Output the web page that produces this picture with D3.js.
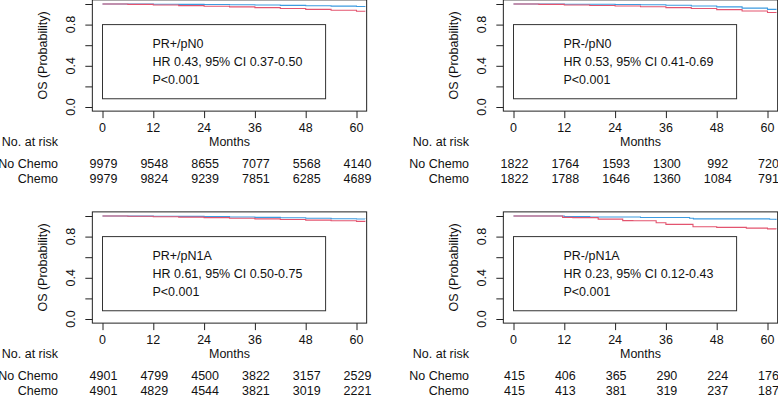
<!DOCTYPE html>
<html>
<head>
<meta charset="utf-8">
<script src="https://cdn.jsdelivr.net/npm/d3@7"></script>
<style>
  body { margin: 0; background: #fff; }
  svg text { font-family: "Liberation Sans", Arial, Helvetica, sans-serif; font-size: 12.5px; fill: #111; }
</style>
</head>
<body>
<svg id="chart" width="778" height="395"></svg>
<script>
// ---- data ----
var months = [0, 12, 24, 36, 48, 60];
var yTicks = [0, 0.2, 0.4, 0.6, 0.8, 1.0];
var yLabels = [0, 0.4, 0.8];
var panelTitles = ["PR+/pN0", "PR-/pN0", "PR+/pN1A", "PR-/pN1A"];
var hrTexts = ["HR 0.43, 95% CI 0.37-0.50", "HR 0.53, 95% CI 0.41-0.69",
               "HR 0.61, 95% CI 0.50-0.75", "HR 0.23, 95% CI 0.12-0.43"];
var pTexts = ["P<0.001", "P<0.001", "P<0.001", "P<0.001"];
var riskNoChemo = [
  [9979, 9548, 8655, 7077, 5568, 4140],
  [1822, 1764, 1593, 1300, 992, 720],
  [4901, 4799, 4500, 3822, 3157, 2529],
  [415, 406, 365, 290, 224, 176]
];
var riskChemo = [
  [9979, 9824, 9239, 7851, 6285, 4689],
  [1822, 1788, 1646, 1360, 1084, 791],
  [4901, 4829, 4544, 3821, 3019, 2221],
  [415, 413, 381, 319, 237, 187]
];
// survival curves [month, probability]
var kmNoChemo = [
  [[0,1],[6,0.996],[12,0.99],[18,0.984],[24,0.978],[30,0.972],[36,0.965],[42,0.957],[48,0.948],[54,0.939],[60,0.93],[62,0.926]],
  [[0,1],[6,0.996],[12,0.99],[18,0.985],[24,0.98],[30,0.973],[36,0.965],[42,0.956],[48,0.945],[54,0.932],[60,0.918],[62,0.913]],
  [[0,1],[6,0.997],[12,0.993],[18,0.989],[24,0.984],[30,0.978],[36,0.972],[42,0.966],[48,0.96],[54,0.954],[60,0.948],[62,0.945]],
  [[0,1],[9,1],[11.6,0.987],[14,0.984],[20,0.97],[25.8,0.955],[28.2,0.954],[33.7,0.935],[36,0.919],[42.4,0.896],[48,0.89],[55,0.882],[60,0.875],[62,0.871]]
];
var kmChemo = [
  [[0,1],[6,0.999],[12,0.998],[18,0.996],[24,0.995],[30,0.993],[36,0.99],[42,0.987],[48,0.983],[54,0.979],[60,0.976],[62,0.974]],
  [[0,1],[6,0.999],[12,0.998],[18,0.997],[24,0.995],[30,0.992],[36,0.988],[42,0.981],[48,0.972],[54,0.96],[60,0.948],[62,0.942]],
  [[0,1],[6,0.999],[12,0.998],[18,0.996],[24,0.994],[30,0.991],[36,0.987],[42,0.983],[48,0.978],[54,0.974],[60,0.971],[62,0.97]],
  [[0,1],[12,0.995],[18,0.99],[30,0.985],[41.6,0.978],[42.5,0.972],[60.5,0.968],[62,0.96]]
];

var colNoChemo = "#e3546f";
var colChemo = "#3d9be0";
var stretch = 1.08;   // glyphs in the original look slightly taller than wide

var svg = d3.select("#chart");
var offsets = [[0, 0], [411, 0], [0, 212], [411, 212]];

function label(g, x, y, str, anchor, rot) {
  return g.append("text")
    .attr("text-anchor", anchor || "start")
    .attr("transform", "translate(" + x + "," + y + ")" + (rot ? " rotate(" + rot + ")" : "") + " scale(1," + stretch + ")")
    .text(str);
}

function drawPanel(i) {
  var g = svg.append("g")
    .attr("transform", "translate(" + offsets[i][0] + "," + offsets[i][1] + ")");

  var x = d3.scaleLinear().domain([0, 60]).range([102.5, 356.5]);
  var y = d3.scaleLinear().domain([0, 1]).range([107, 4]);

  var bx0 = x(-2.4), bx1 = x(62.4), by0 = y(1.04), by1 = y(-0.04);

  // clip for curves
  g.append("clipPath").attr("id", "clip" + i)
    .append("rect")
    .attr("x", bx0).attr("y", by0)
    .attr("width", bx1 - bx0).attr("height", by1 - by0);

  // legend box
  g.append("rect")
    .attr("x", x(0)).attr("y", y(0.8))
    .attr("width", x(52.7) - x(0)).attr("height", y(0.08) - y(0.8))
    .attr("fill", "none").attr("stroke", "#333").attr("stroke-width", 1);

  var tx = x(11.8);
  var ty = y(0.8) + 23.7;
  label(g, tx, ty, panelTitles[i]);
  label(g, tx, ty + 17.9, hrTexts[i]);
  label(g, tx, ty + 35.8, pTexts[i]);

  // curves
  var line = d3.line()
    .x(function(d) { return x(d[0]); })
    .y(function(d) { return y(d[1]); })
    .curve(d3.curveStepAfter);

  var curves = g.append("g").attr("clip-path", "url(#clip" + i + ")");
  curves.append("path")
    .attr("d", line(kmChemo[i]))
    .attr("fill", "none").attr("stroke", colChemo).attr("stroke-width", 1.1);
  curves.append("path")
    .attr("d", line(kmNoChemo[i]))
    .attr("fill", "none").attr("stroke", colNoChemo).attr("stroke-width", 1.1);

  // plot box
  g.append("rect")
    .attr("x", bx0).attr("y", by0)
    .attr("width", bx1 - bx0).attr("height", by1 - by0)
    .attr("fill", "none").attr("stroke", "#222").attr("stroke-width", 1);

  // y axis
  var yAxis = d3.axisLeft(y).tickValues(yTicks).tickSize(7).tickFormat("");
  var ya = g.append("g").attr("transform", "translate(" + bx0 + ",0)").call(yAxis);
  ya.select(".domain").remove();
  ya.selectAll("line").attr("stroke", "#222");

  yLabels.forEach(function(d) {
    label(g, 75, y(d), d3.format(".1f")(d), "middle", -90);
  });
  label(g, 46.5, y(0.5), "OS (Probability)", "middle", -90);

  // x axis
  var xAxis = d3.axisBottom(x).tickValues(months).tickSize(7).tickFormat("");
  var xa = g.append("g").attr("transform", "translate(0," + by1 + ")").call(xAxis);
  xa.select(".domain").remove();
  xa.selectAll("line").attr("stroke", "#222");

  months.forEach(function(d) {
    label(g, x(d), 131.7, d, "middle");
  });
  label(g, x(30), 145.7, "Months", "middle");

  // number at risk
  label(g, 58, 145.7, "No. at risk", "end");
  label(g, 58, 167.7, "No Chemo", "end");
  label(g, 58, 182.7, "Chemo", "end");

  riskNoChemo[i].forEach(function(d, j) {
    label(g, x(months[j]) + 1, 167.7, d, "middle");
  });
  riskChemo[i].forEach(function(d, j) {
    label(g, x(months[j]) + 1, 182.7, d, "middle");
  });
}

for (var i = 0; i < 4; i++) drawPanel(i);
</script>
</body>
</html>
